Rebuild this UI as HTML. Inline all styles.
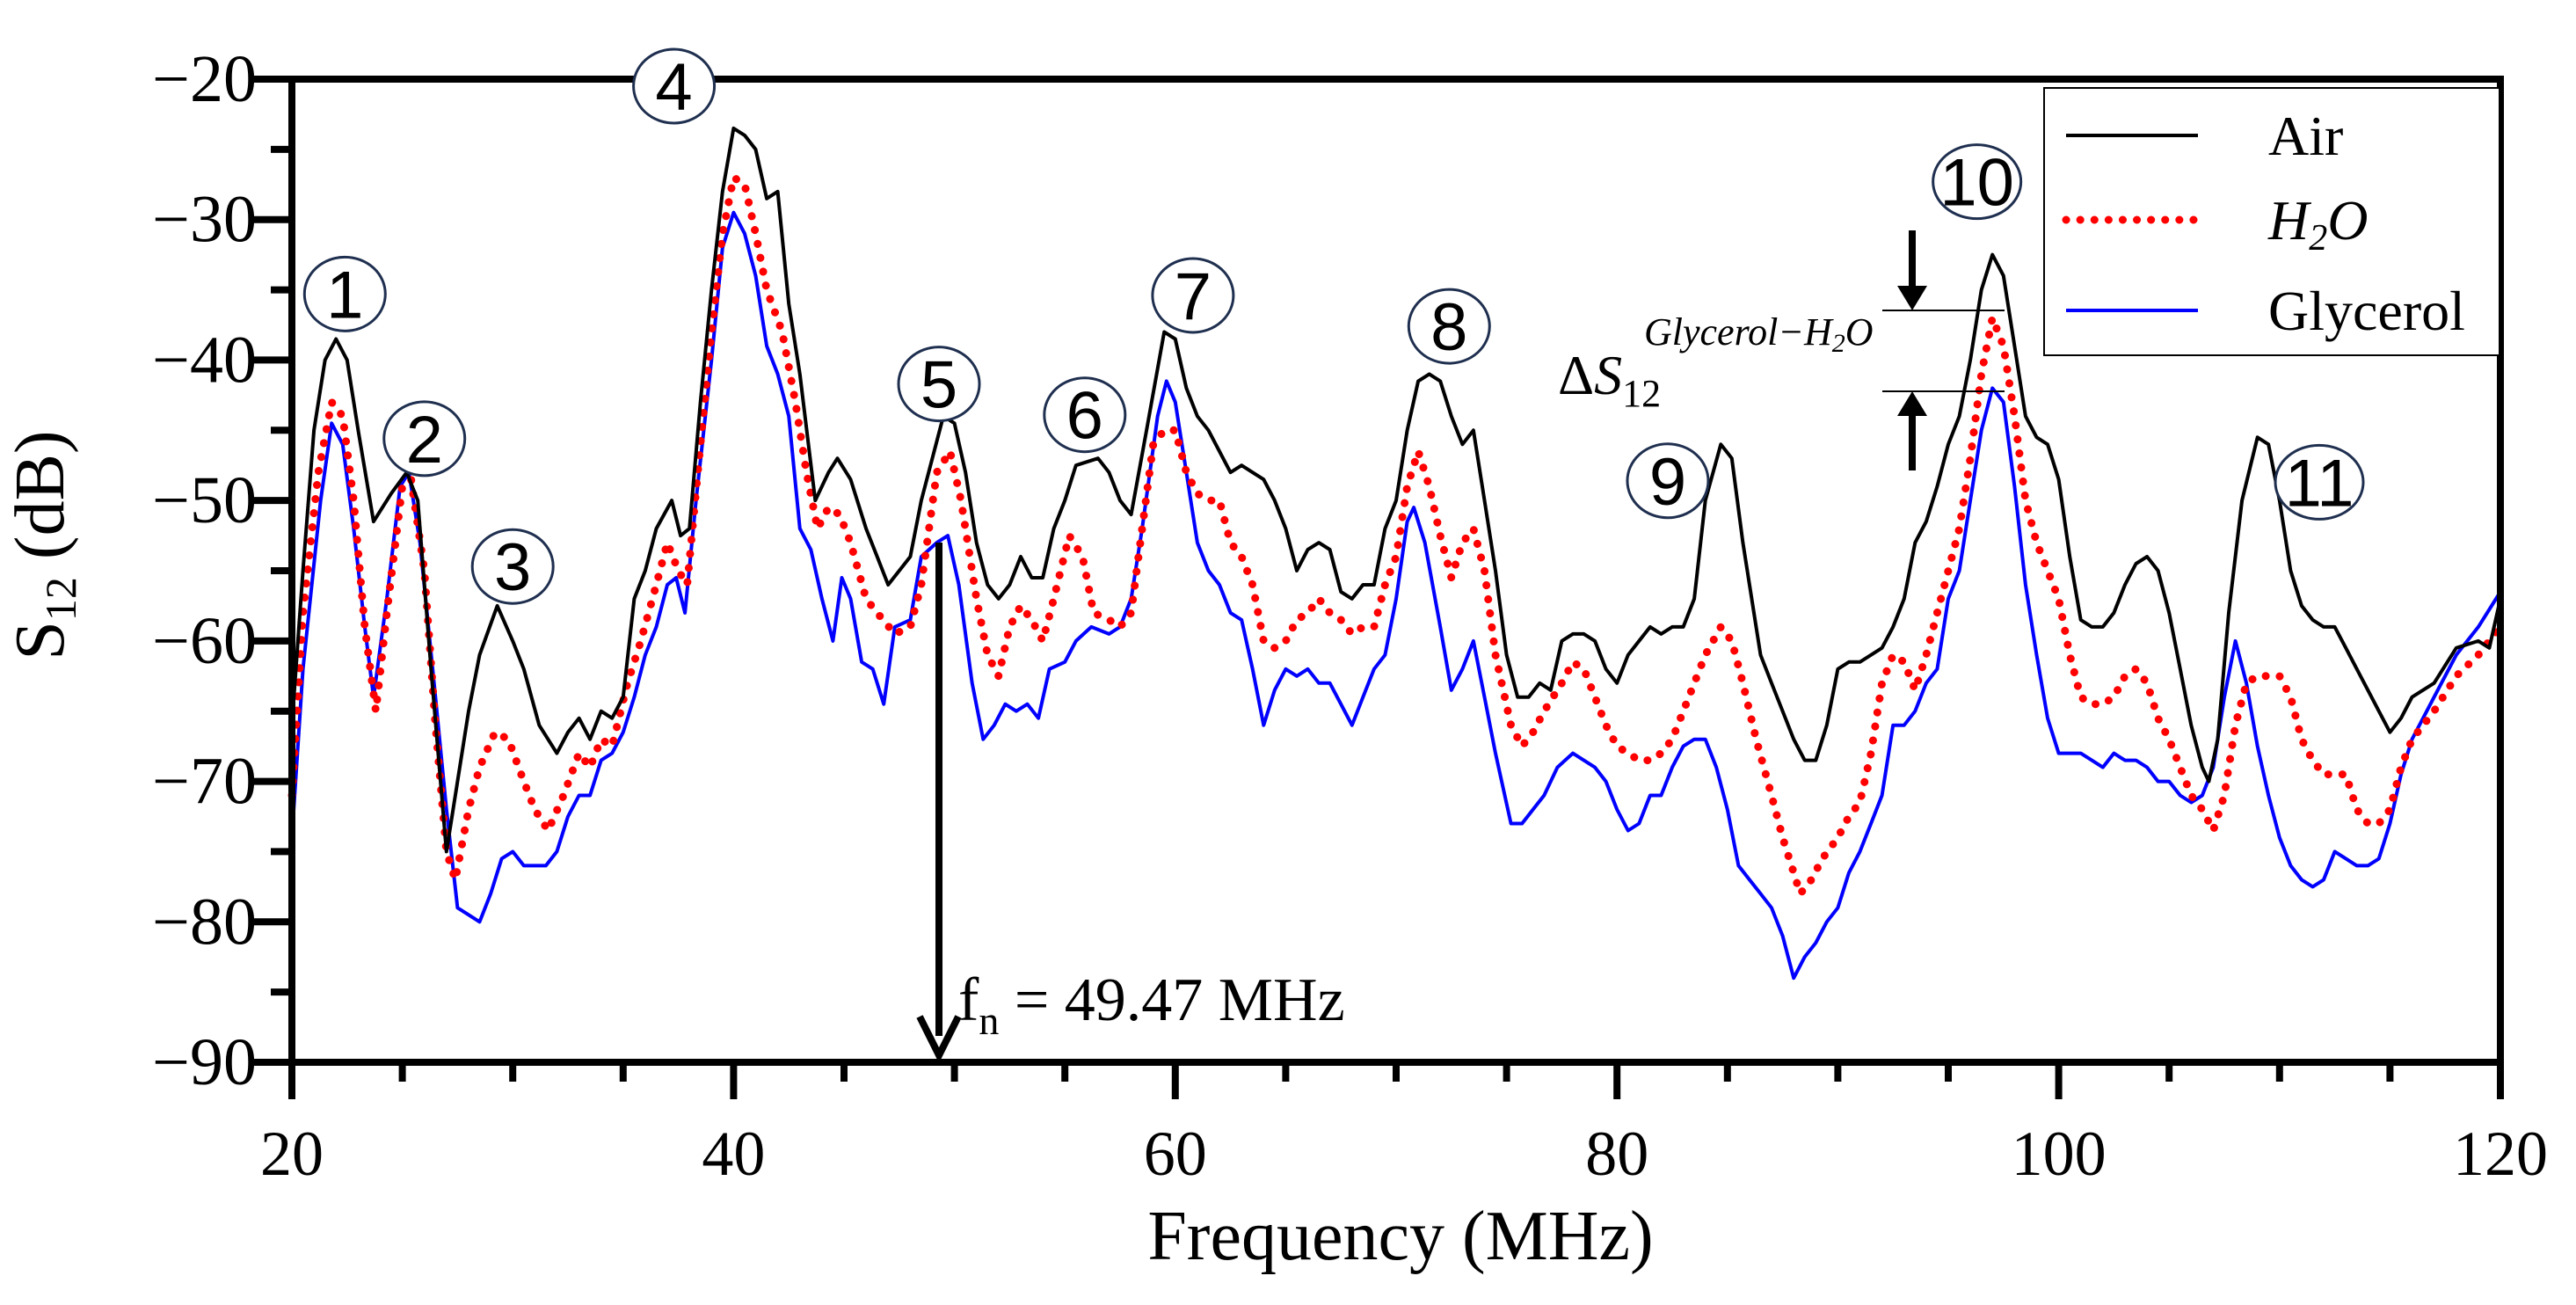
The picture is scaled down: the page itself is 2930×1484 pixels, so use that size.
<!DOCTYPE html>
<html><head><meta charset="utf-8">
<style>
html,body{margin:0;padding:0;background:#fff;}
svg{display:block;}
text{font-family:"Liberation Serif",serif;}
</style></head>
<body>
<svg id="chart" width="2930" height="1484" viewBox="0 0 2930 1484" xmlns="http://www.w3.org/2000/svg">
<g id="grid"></g>
<g id="series"></g>
<g id="axes"></g>
<g id="annot"></g>
</svg>
<script>
const xTicks=[20,40,60,80,100,120];
const yTicks=[-20,-30,-40,-50,-60,-70,-80,-90];
const airF=[20,20.5,21,21.5,22,22.5,23,23.7,24.5,25.2,25.7,26.3,27,27.5,28,28.5,29.3,30,30.5,31.2,32,32.5,33,33.5,34,34.5,35,35.5,36,36.5,37.2,37.6,38,38.5,39,39.5,40,40.5,41,41.5,42,42.5,43,43.7,44.3,44.7,45.3,46,46.5,47,47.5,48,48.5,49.5,50,50.5,51,51.5,52,52.5,53,53.5,54,54.5,55,55.5,56.5,57,57.5,58,58.7,59.5,60,60.5,61,61.5,62,62.5,63,63.5,64,64.5,65,65.5,66,66.5,67,67.5,68,68.5,69,69.5,70,70.5,71,71.5,72,72.5,73,73.5,74,74.5,75,75.5,76,76.5,77,77.5,78,78.5,79,79.5,80,80.5,81,81.5,82,82.5,83,83.5,84,84.7,85.2,85.7,86.5,87,87.5,88,88.5,89,89.5,90,90.5,91,91.5,92,92.5,93,93.5,94,94.5,95,95.5,96,96.5,97,97.5,98,98.5,99,99.5,100,100.5,101,101.5,102,102.5,103,103.5,104,104.5,105,105.5,106,106.5,106.8,107.2,107.7,108.3,109,109.5,110,110.5,111,111.5,112,112.5,113,113.5,114,114.5,115,115.5,116,117,118,119,119.5,120];
const airDb=[-66,-55,-45,-40,-38.5,-40,-45,-51.5,-49.5,-48,-50,-62,-75,-70,-65,-61,-57.5,-60,-62,-66,-68,-66.5,-65.5,-67,-65,-65.5,-64,-57,-55,-52,-50,-52.5,-52,-43,-35,-28,-23.5,-24,-25,-28.5,-28,-36,-41,-50,-48,-47,-48.5,-52,-54,-56,-55,-54,-50,-44,-44.5,-48,-53,-56,-57,-56,-54,-55.5,-55.5,-52,-50,-47.5,-47,-48,-50,-51,-45,-38,-38.5,-42,-44,-45,-46.5,-48,-47.5,-48,-48.5,-50,-52,-55,-53.5,-53,-53.5,-56.5,-57,-56,-56,-52,-50,-45,-41.5,-41,-41.5,-44,-46,-45,-50,-55,-61,-64,-64,-63,-63.5,-60,-59.5,-59.5,-60,-62,-63,-61,-60,-59,-59.5,-59,-59,-57,-50,-46,-47,-53,-61,-63,-65,-67,-68.5,-68.5,-66,-62,-61.5,-61.5,-61,-60.5,-59,-57,-53,-51.5,-49,-46,-44,-40,-35,-32.5,-34,-39,-44,-45.5,-46,-48.5,-54,-58.5,-59,-59,-58,-56,-54.5,-54,-55,-58,-62,-66,-69,-70,-67,-58,-50,-45.5,-46,-50,-55,-57.5,-58.5,-59,-59,-60.5,-62,-63.5,-65,-66.5,-65.5,-64,-63,-60.5,-60,-60.5,-57];
const h2oF=[20,20.5,21.2,21.8,22.3,22.8,23.3,23.8,24.3,25,25.4,26,26.5,27,27.4,28,28.5,29.2,29.8,30.5,31,31.6,32.3,33,33.5,34,34.5,35.2,35.8,36.5,37,37.5,37.9,38.5,39,39.5,40,40.5,41,41.5,42.2,42.8,43.3,43.8,44.3,44.8,45.3,46,46.5,47.3,48,48.5,49.2,49.8,50.3,51,51.5,52,52.5,53,53.5,54,54.5,55.2,55.8,56.3,57,57.5,58,58.5,59,59.5,60,60.5,61,61.5,62,62.5,63,63.5,64,64.5,65,65.5,66,66.5,67,67.5,68,68.5,69,69.5,70,70.5,71,71.5,72,72.5,73,73.5,74,74.5,75.2,75.7,76.2,76.7,77.5,78,78.5,79,79.5,80,80.5,81,81.5,82,82.5,83,83.5,84,84.7,85.2,85.7,86.3,87,87.5,88,88.3,88.8,89.3,90,90.5,91,91.5,92,92.5,93,93.5,94,94.5,95,95.5,96,96.5,97,97.5,98,98.5,99,99.5,100,100.5,101,101.5,102,102.5,103,103.5,104,104.5,105,105.5,106,106.5,107,107.5,108,108.5,109,109.5,110,110.5,111,111.5,112,112.5,113,113.5,114,114.5,115,115.5,116,117,118,119,120];
const h2oDb=[-71,-58,-48,-43,-44,-50,-59,-65,-58,-49,-48.5,-55,-66,-75,-77,-72,-69,-66.5,-67,-70,-72,-73.5,-71,-68,-69,-67,-67.5,-63,-60,-56,-53,-55,-56,-46,-38,-31,-27,-27.5,-31,-35,-38,-43,-48,-52,-50.5,-51,-53,-57,-58,-59.5,-59,-56,-48,-46.5,-50,-57,-61,-62.5,-59,-57.5,-58.5,-60,-57,-52.5,-54,-58,-58.5,-59,-58,-52,-46,-45,-45,-48,-49.5,-50,-50,-53,-54,-56,-60,-60.5,-60,-58.5,-58,-57,-58,-58.5,-59.5,-59,-59,-56,-54,-49,-46.5,-49,-52.5,-55.5,-53,-52,-55,-61,-66,-67.5,-66.5,-65,-63,-61.5,-62,-64,-66,-67.5,-68,-68.5,-68.5,-68,-67,-65,-63,-61,-59,-60,-63,-67,-71,-74,-76.5,-78,-77,-75.5,-74,-72.5,-71.5,-68,-63,-61,-61.5,-63.5,-61,-58,-55,-52,-47,-41,-37,-39,-44,-50,-53,-55,-57,-61,-64,-64.5,-64.5,-64,-62.5,-62,-63,-65.5,-67,-69,-71,-72,-73.5,-71,-66,-63,-62.5,-62.5,-62.5,-64,-67,-68.5,-69.5,-69.5,-69.5,-72,-73,-73,-72,-69,-67,-65,-62.5,-61,-59];
const glyF=[20,20.5,21.3,21.8,22.3,22.8,23.3,23.7,24.3,24.9,25.3,25.8,26.5,27,27.5,28,28.5,29,29.5,30,30.5,31,31.5,32,32.5,33,33.5,34,34.5,35,35.5,36,36.5,37,37.4,37.8,38.3,39,39.5,40,40.5,41,41.5,42,42.5,43,43.5,44,44.5,44.9,45.3,45.8,46.3,46.8,47.3,48,48.5,49.2,49.7,50.2,50.8,51.3,51.8,52.3,52.8,53.3,53.8,54.3,55,55.5,56.2,57,57.5,58,58.5,59.2,59.6,60,60.5,61,61.5,62,62.5,63,63.5,64,64.5,65,65.5,66,66.5,67,67.5,68,68.5,69,69.5,70,70.5,70.8,71.3,72,72.5,73,73.5,74,74.5,75.2,75.7,76.2,76.7,77.3,78,78.5,79,79.5,80,80.5,81,81.5,82,82.5,83,83.5,84,84.5,85,85.5,86,86.5,87,87.5,88,88.5,89,89.5,90,90.5,91,91.5,92,92.5,93,93.5,94,94.5,95,95.5,96,96.5,97,97.5,98,98.5,99,99.5,100,100.5,101,101.5,102,102.5,103,103.5,104,104.5,105,105.5,106,106.5,107,107.5,108,108.5,109,109.5,110,110.5,111,111.5,112,112.5,113,113.5,114,114.5,115,115.5,116,117,118,119,120];
const glyDb=[-74,-62,-50,-44.5,-46,-52,-59,-64,-57,-49,-48,-53,-64,-72,-79,-79.5,-80,-78,-75.5,-75,-76,-76,-76,-75,-72.5,-71,-71,-68.5,-68,-66.5,-64,-61,-59,-56,-55.5,-58,-50,-40,-32,-29.5,-31,-34,-39,-41,-44,-52,-53.5,-57,-60,-55.5,-57,-61.5,-62,-64.5,-59,-58.5,-54,-53,-52.5,-56,-63,-67,-66,-64.5,-65,-64.5,-65.5,-62,-61.5,-60,-59,-59.5,-59,-57,-52,-44,-41.5,-43,-48,-53,-55,-56,-58,-58.5,-62,-66,-63.5,-62,-62.5,-62,-63,-63,-64.5,-66,-64,-62,-61,-57,-51.5,-50.5,-53,-59,-63.5,-62,-60,-64,-68,-73,-73,-72,-71,-69,-68,-68.5,-69,-70,-72,-73.5,-73,-71,-71,-69,-67.5,-67,-67,-69,-72,-76,-77,-78,-79,-81,-84,-82.5,-81.5,-80,-79,-76.5,-75,-73,-71,-66,-66,-65,-63,-62,-57,-55,-50,-45,-42,-43,-49,-56,-61,-65.5,-68,-68,-68,-68.5,-69,-68,-68.5,-68.5,-69,-70,-70,-71,-71.5,-71,-69,-64,-60,-63,-67.5,-71,-74,-76,-77,-77.5,-77,-75,-75.5,-76,-76,-75.5,-73,-69.5,-67,-64,-61,-59,-56.5];
const labelNums=["1","2","3","4","5","6","7","8","9","10","11"];
const labelF=[22.4,26.0,30.0,37.3,49.3,55.9,60.8,72.4,82.3,96.3,111.8];
const labelDb=[-35.3,-45.6,-54.7,-20.5,-41.7,-43.9,-35.4,-37.6,-48.6,-27.3,-48.7];
const fnValue=49.3;

const NS="http://www.w3.org/2000/svg";
const L=332,R=2844,T=90,B=1208;
const xs=f=>L+(f-20)/(100)*(R-L);
const ys=d=>T+(-20-d)/70*(B-T);
function mk(tag,attrs,parent,txt){const e=document.createElementNS(NS,tag);for(const k in attrs)e.setAttribute(k,attrs[k]);if(txt!==undefined)e.textContent=txt;parent.appendChild(e);return e;}
const axes=document.getElementById('axes'),series=document.getElementById('series'),annot=document.getElementById('annot');

function pathOf(F,D){return F.map((f,i)=>(i?'L':'M')+xs(f).toFixed(1)+' '+ys(D[i]).toFixed(1)).join(' ');}
let p=mk('path',{d:pathOf(glyF,glyDb),fill:'none',stroke:'#0000ff','stroke-width':4,'stroke-linejoin':'round'},series);


p=mk('path',{d:pathOf(h2oF,h2oDb),fill:'none',stroke:'#ff0000','stroke-width':9,'stroke-dasharray':'0.1 16','stroke-linecap':'round'},series);


p=mk('path',{d:pathOf(airF,airDb),fill:'none',stroke:'#000','stroke-width':4,'stroke-linejoin':'round'},series);



let fr=mk('rect',{x:L,y:T,width:R-L,height:B-T,fill:'none',stroke:'#000','stroke-width':8},axes);


for(let d=-20;d>=-90;d-=5){const maj=d%10===0;const t=mk('line',{x1:L-(maj?44:24),x2:L,y1:ys(d),y2:ys(d),stroke:'#000','stroke-width':8},axes);

}
yTicks.forEach(v=>{const t=mk('text',{x:292,y:ys(v)+25,'text-anchor':'end','font-size':76},axes,'\u2212'+Math.abs(v));

});
for(let f=20;f<=120;f+=5){const maj=f%20===0;const t=mk('line',{x1:xs(f),x2:xs(f),y1:B,y2:B+(maj?42:22),stroke:'#000','stroke-width':8},axes);

}
xTicks.forEach(v=>{const t=mk('text',{x:xs(v),y:1336,'text-anchor':'middle','font-size':72},axes,String(v));

});
let xt=mk('text',{x:1593,y:1432,'text-anchor':'middle','font-size':80},axes,'Frequency (MHz)');


let yt=mk('text',{transform:'translate(72,620) rotate(-90)','text-anchor':'middle','font-size':80},axes);


mk('tspan',{},yt,'S');mk('tspan',{'font-size':50,dy:14},yt,'12');mk('tspan',{dy:-14},yt,' (dB)');

labelNums.forEach((n,i)=>{const g=mk('g',{},annot);


const cx=xs(labelF[i]),cy=ys(labelDb[i]);
mk('ellipse',{cx:cx,cy:cy,rx:n.length>1?50:46,ry:42,fill:'#fff',stroke:'#1f2f4f','stroke-width':3},g);
mk('text',{x:cx,y:cy+27,'text-anchor':'middle','font-size':76,style:'font-family:"Liberation Sans",sans-serif'},g,n);});

const fx=xs(fnValue);
let ar=mk('g',{},annot);


mk('line',{x1:fx,x2:fx,y1:ys(-53),y2:B-30,stroke:'#000','stroke-width':8},ar);
mk('path',{d:`M${fx-22} ${B-52} L${fx} ${B-8} L${fx+22} ${B-52}`,fill:'none',stroke:'#000','stroke-width':8},ar);
let ft=mk('text',{x:fx+22,y:1160,'font-size':70},annot);


mk('tspan',{},ft,'f');mk('tspan',{'font-size':46,dy:16},ft,'n');mk('tspan',{dy:-16},ft,' = 49.47 MHz');

const dg=mk('g',{},annot);


mk('line',{x1:2141,x2:2280,y1:353,y2:353,stroke:'#000','stroke-width':2},dg);
mk('line',{x1:2141,x2:2280,y1:445,y2:445,stroke:'#000','stroke-width':2},dg);
mk('line',{x1:2175,x2:2175,y1:262,y2:330,stroke:'#000','stroke-width':8},dg);
mk('path',{d:'M2158 325 L2175 353 L2192 325 Z',fill:'#000'},dg);
mk('line',{x1:2175,x2:2175,y1:535,y2:468,stroke:'#000','stroke-width':8},dg);
mk('path',{d:'M2158 473 L2175 445 L2192 473 Z',fill:'#000'},dg);
const dt=mk('text',{x:1772,y:448,'font-size':64,style:'font-family:"Liberation Serif",serif'},dg);
mk('tspan',{},dt,'\u0394');mk('tspan',{'font-style':'italic'},dt,'S');
mk('tspan',{'font-size':44,dy:14},dt,'12');
const sup=mk('text',{x:1870,y:392,'font-size':44,'font-style':'italic',style:'font-family:"Liberation Serif",serif'},dg,'Glycerol\u2212H');
mk('tspan',{'font-size':30,dy:8},sup,'2');mk('tspan',{dy:-8},sup,'O');

const lg=mk('g',{},annot);


mk('rect',{x:2325,y:100,width:518,height:304,fill:'#fff',stroke:'#000','stroke-width':2},lg);
const legNames=['Air','H2O','Glycerol'];const legY=[154,250,353];
const legStyle=[{stroke:'#000','stroke-width':4},{stroke:'#ff0000','stroke-width':9,'stroke-dasharray':'0.1 16','stroke-linecap':'round'},{stroke:'#0000ff','stroke-width':4}];
legNames.forEach((n,i)=>{const e=mk('g',{},lg);


mk('line',Object.assign({x1:2350,x2:2500,y1:legY[i],y2:legY[i]},legStyle[i]),e);
const t=mk('text',{x:2580,y:legY[i]+22,'font-size':64},e);
if(n==='H2O'){t.setAttribute('font-style','italic');mk('tspan',{},t,'H');mk('tspan',{'font-size':42,dy:12},t,'2');mk('tspan',{dy:-12},t,'O');}
else t.textContent=n;});
</script>
</body></html>
